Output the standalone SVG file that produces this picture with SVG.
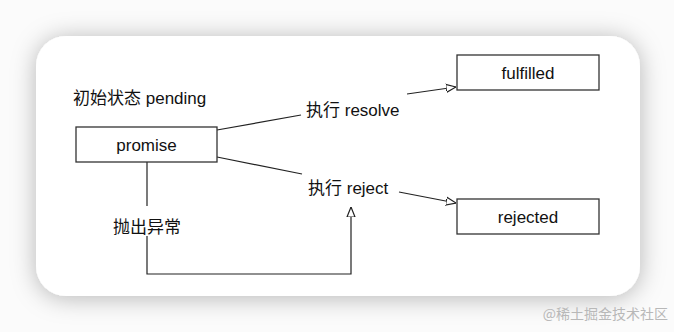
<svg xmlns="http://www.w3.org/2000/svg" width="674" height="332" viewBox="0 0 674 332">
<style>
.box{fill:#fff;stroke:#333;stroke-width:1.3}
.t{font-family:"Liberation Sans","Noto Sans CJK SC",sans-serif;font-size:17px;fill:#111}
.ln{fill:none;stroke:#222;stroke-width:1.2}
</style>
<defs>
<filter id="sh" x="-20%" y="-30%" width="140%" height="160%">
<feDropShadow dx="0" dy="2" stdDeviation="12" flood-color="#000" flood-opacity="0.28"/>
</filter>
<marker id="oa" viewBox="0 0 10 10" refX="10" refY="5" markerWidth="10" markerHeight="10" markerUnits="userSpaceOnUse" orient="auto">
<path d="M0,1 L10,5 L0,9 Z" fill="#fff" stroke="#222" stroke-width="1.2"/>
</marker>
</defs>
<rect width="674" height="332" fill="#fbfbfb"/>
<rect x="36" y="36" width="604" height="260" rx="30" fill="#fff" filter="url(#sh)"/>
<text class="t" x="73" y="104">初始状态 pending</text>
<g id="connectors">
<polyline class="ln" points="217,130 301,115"/>
<polyline class="ln" points="407,94 456,87" marker-end="url(#oa)"/>
<polyline class="ln" points="217,157 302,174"/>
<polyline class="ln" points="399,192 456,203" marker-end="url(#oa)"/>
<polyline class="ln" points="147,162 147,206"/>
<polyline class="ln" points="147,236 147,274 351,274 351,207" marker-end="url(#oa)"/>
<text class="t" x="306" y="116">执行 resolve</text>
<text class="t" x="308" y="194">执行 reject</text>
<text class="t" x="113" y="233">抛出异常</text>
</g>
<g id="promise">
<rect class="box" x="76" y="127" width="141" height="35"/>
<text class="t" x="146.5" y="151" text-anchor="middle">promise</text>
</g>
<g id="fulfilled">
<rect class="box" x="457" y="55" width="142" height="35"/>
<text class="t" x="528" y="79" text-anchor="middle">fulfilled</text>
</g>
<g id="rejected">
<rect class="box" x="457" y="199" width="142" height="35"/>
<text class="t" x="528" y="223" text-anchor="middle">rejected</text>
</g>
<text x="668" y="319" text-anchor="end" style="font-family:'Noto Sans CJK SC',sans-serif;font-size:14px;fill:#b8b8b8">@稀土掘金技术社区</text>
</svg>
